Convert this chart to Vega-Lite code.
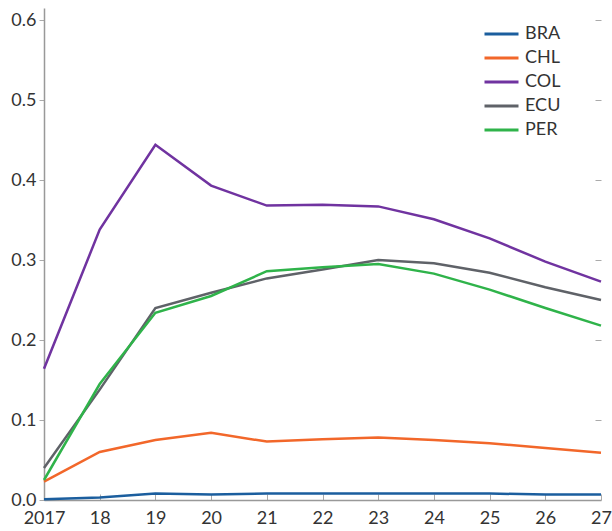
{
  "$schema": "https://vega.github.io/schema/vega-lite/v6.json",
  "width": 557,
  "height": 492,
  "autosize": {"type": "none"},
  "padding": {"left": 44, "top": 8, "right": 11, "bottom": 31},
  "background": "white",
  "config": {
    "view": {"stroke": null},
    "font": "Lato",
    "axis": {"labelFont": "Lato", "labelFontSize": 18, "labelColor": "#333333", "grid": false}
  },
  "data": {"values": [
    {"year": 2017, "country": "BRA", "value": 0.001},
    {"year": 2018, "country": "BRA", "value": 0.003},
    {"year": 2019, "country": "BRA", "value": 0.008},
    {"year": 2020, "country": "BRA", "value": 0.007},
    {"year": 2021, "country": "BRA", "value": 0.008},
    {"year": 2022, "country": "BRA", "value": 0.008},
    {"year": 2023, "country": "BRA", "value": 0.008},
    {"year": 2024, "country": "BRA", "value": 0.008},
    {"year": 2025, "country": "BRA", "value": 0.008},
    {"year": 2026, "country": "BRA", "value": 0.007},
    {"year": 2027, "country": "BRA", "value": 0.007},
    {"year": 2017, "country": "CHL", "value": 0.023},
    {"year": 2018, "country": "CHL", "value": 0.060},
    {"year": 2019, "country": "CHL", "value": 0.075},
    {"year": 2020, "country": "CHL", "value": 0.084},
    {"year": 2021, "country": "CHL", "value": 0.073},
    {"year": 2022, "country": "CHL", "value": 0.076},
    {"year": 2023, "country": "CHL", "value": 0.078},
    {"year": 2024, "country": "CHL", "value": 0.075},
    {"year": 2025, "country": "CHL", "value": 0.071},
    {"year": 2026, "country": "CHL", "value": 0.065},
    {"year": 2027, "country": "CHL", "value": 0.059},
    {"year": 2017, "country": "COL", "value": 0.164},
    {"year": 2018, "country": "COL", "value": 0.338},
    {"year": 2019, "country": "COL", "value": 0.444},
    {"year": 2020, "country": "COL", "value": 0.393},
    {"year": 2021, "country": "COL", "value": 0.368},
    {"year": 2022, "country": "COL", "value": 0.369},
    {"year": 2023, "country": "COL", "value": 0.367},
    {"year": 2024, "country": "COL", "value": 0.351},
    {"year": 2025, "country": "COL", "value": 0.327},
    {"year": 2026, "country": "COL", "value": 0.298},
    {"year": 2027, "country": "COL", "value": 0.273},
    {"year": 2017, "country": "ECU", "value": 0.040},
    {"year": 2018, "country": "ECU", "value": 0.138},
    {"year": 2019, "country": "ECU", "value": 0.240},
    {"year": 2020, "country": "ECU", "value": 0.259},
    {"year": 2021, "country": "ECU", "value": 0.277},
    {"year": 2022, "country": "ECU", "value": 0.288},
    {"year": 2023, "country": "ECU", "value": 0.300},
    {"year": 2024, "country": "ECU", "value": 0.296},
    {"year": 2025, "country": "ECU", "value": 0.284},
    {"year": 2026, "country": "ECU", "value": 0.266},
    {"year": 2027, "country": "ECU", "value": 0.250},
    {"year": 2017, "country": "PER", "value": 0.025},
    {"year": 2018, "country": "PER", "value": 0.145},
    {"year": 2019, "country": "PER", "value": 0.234},
    {"year": 2020, "country": "PER", "value": 0.255},
    {"year": 2021, "country": "PER", "value": 0.286},
    {"year": 2022, "country": "PER", "value": 0.291},
    {"year": 2023, "country": "PER", "value": 0.295},
    {"year": 2024, "country": "PER", "value": 0.283},
    {"year": 2025, "country": "PER", "value": 0.263},
    {"year": 2026, "country": "PER", "value": 0.240},
    {"year": 2027, "country": "PER", "value": 0.218}
  ]},
  "layer": [
    {
      "mark": {"type": "line", "strokeWidth": 2.5},
      "encoding": {
        "x": {
          "field": "year", "type": "quantitative",
          "scale": {"domain": [2017, 2027], "nice": false, "zero": false},
          "axis": {
            "title": null,
            "values": [2017, 2018, 2019, 2020, 2021, 2022, 2023, 2024, 2025, 2026, 2027],
            "labelExpr": "datum.value == 2017 ? '2017' : substring(toString(datum.value), 2)",
            "labelAlign": "center",
            "domainColor": "#999999",
            "domainWidth": 1.5,
            "tickColor": "#aaaaaa",
            "tickSize": -6,
            "labelPadding": 15,
            "labelFlush": false,
            "labelOverlap": false
          }
        },
        "y": {
          "field": "value", "type": "quantitative",
          "scale": {"domain": [0, 0.615], "nice": false},
          "axis": {
            "title": null,
            "values": [0, 0.1, 0.2, 0.3, 0.4, 0.5, 0.6],
            "format": ".1f",
            "domainColor": "#999999",
            "domainWidth": 1.5,
            "tickColor": "#aaaaaa",
            "tickSize": 5,
            "labelPadding": 3
          }
        },
        "color": {
          "field": "country", "type": "nominal",
          "scale": {
            "domain": ["BRA", "CHL", "COL", "ECU", "PER"],
            "range": ["#1b5e9e", "#f2672a", "#7033a0", "#5f6268", "#2fb34a"]
          },
          "legend": {
            "title": null,
            "orient": "none",
            "legendX": 447.5,
            "legendY": 16,
            "symbolType": "M-2,0H2",
            "symbolSize": 289,
            "symbolStrokeWidth": 3,
            "symbolFillColor": "transparent",
            "labelFont": "Lato",
            "labelFontSize": 18,
            "labelColor": "#333333",
            "rowPadding": 5,
            "labelOffset": 13.5
          }
        }
      }
    },
    {
      "mark": {"type": "point", "opacity": 0},
      "encoding": {
        "x": {"field": "year", "type": "quantitative"},
        "y": {
          "field": "value", "type": "quantitative",
          "axis": {
            "orient": "right",
            "title": null,
            "values": [0.1, 0.2, 0.3, 0.4, 0.5, 0.6],
            "labels": false,
            "domain": false,
            "tickColor": "#aaaaaa",
            "tickSize": -6
          }
        }
      }
    }
  ],
  "resolve": {"axis": {"y": "independent"}}
}
